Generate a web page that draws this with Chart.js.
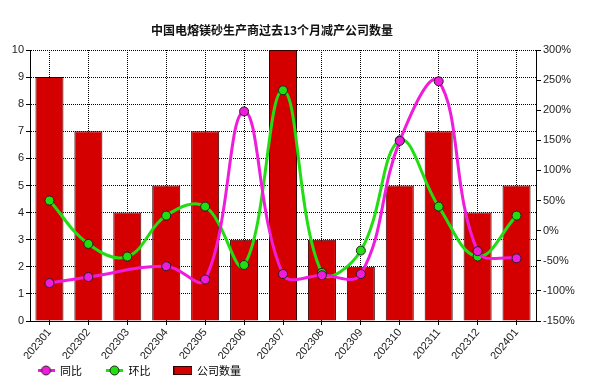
<!DOCTYPE html>
<html>
<head>
<meta charset="utf-8">
<script src="https://cdn.jsdelivr.net/npm/chart.js@4/dist/chart.umd.min.js"></script>
<style>
  html, body { margin: 0; padding: 0; background: #fff; }
  #box { width: 603px; height: 389px; }
</style>
</head>
<body>
<div id="box"><canvas id="grafico"></canvas></div>
<script>
const titulo = '中国电熔镁砂生产商过去13个月减产公司数量'
const meses = ['202301', '202302', '202303', '202304', '202305', '202306', '202307',
  '202308', '202309', '202310', '202311', '202312', '202401']
const empresas = [9, 7, 4, 5, 7, 3, 10, 3, 2, 5, 7, 4, 5]
const tongbi = [-87, -77, null, -59, -81, 198, -72, -74, -72, 149, 248, -34, -46]
const huanbi = [50, -22, -43, 25, 40, -57, 233, -70, -33, 150, 40, -43, 25]
const nombres = ['同比', '环比', '公司数量']

const rojo = '#d40000'
const magenta = '#f01cdc'
const verde = '#22dd11'
const fuente = 'Liberation Sans, Arial, sans-serif'

const iconoLinea = (color) => {
  const c = document.createElement('canvas')
  c.width = 17
  c.height = 11
  const ctx = c.getContext('2d')
  ctx.strokeStyle = color
  ctx.lineWidth = 3
  ctx.beginPath()
  ctx.moveTo(0, 5.5)
  ctx.lineTo(17, 5.5)
  ctx.stroke()
  ctx.beginPath()
  ctx.arc(8.5, 5.5, 4.5, 0, Math.PI * 2)
  ctx.fillStyle = color
  ctx.fill()
  ctx.lineWidth = 1
  ctx.strokeStyle = '#222'
  ctx.stroke()
  return c
}

const iconoBarra = () => {
  const c = document.createElement('canvas')
  c.width = 19
  c.height = 9
  const ctx = c.getContext('2d')
  ctx.fillStyle = rojo
  ctx.fillRect(0.5, 0.5, 18, 8)
  ctx.strokeStyle = '#300'
  ctx.strokeRect(0.5, 0.5, 18, 8)
  return c
}

// titulo a mano, el original no esta centrado en el canvas
const tituloPlugin = {
  id: 'tituloPlugin',
  beforeLayout(chart) {
    const lg = chart.legend
    if (lg && !lg._ajustado) {
      const fit = lg.fit
      lg.fit = function () {
        fit.call(this)
        this.height = 30
      }
      lg._ajustado = true
    }
  },
  afterLayout(chart) {
    const lg = chart.legend
    if (!lg) return
    lg.left += 13.5
    lg.right += 13.5
    lg.top -= 18
  },
  afterDraw(chart) {
    const ctx = chart.ctx
    ctx.save()
    ctx.font = 'bold 12px "Noto Sans CJK SC"'
    ctx.fillStyle = '#111'
    ctx.textAlign = 'center'
    ctx.textBaseline = 'middle'
    ctx.fillText(titulo, 272, 30)
    ctx.restore()
  }
}

const lineaBase = (label, data, color, order) => ({
  type: 'line',
  label,
  data,
  yAxisID: 'y2',
  order,
  borderColor: color,
  backgroundColor: color,
  borderWidth: 3,
  tension: 0.4,
  spanGaps: true,
  pointRadius: 4.5,
  pointBorderWidth: 1,
  pointBorderColor: '#222',
  pointBackgroundColor: color
})

const config = {
  type: 'bar',
  data: {
    labels: meses,
    datasets: [
      lineaBase(nombres[0], tongbi, magenta, 0),
      lineaBase(nombres[1], huanbi, verde, 1),
      {
        type: 'bar',
        label: nombres[2],
        data: empresas,
        yAxisID: 'y',
        order: 2,
        backgroundColor: rojo,
        borderColor: '#300',
        borderWidth: 1,
        categoryPercentage: 0.8,
        barPercentage: 0.9
      }
    ]
  },
  options: {
    responsive: true,
    maintainAspectRatio: false,
    animation: false,
    layout: { padding: { top: 50, left: 0, right: 0, bottom: 0 } },
    plugins: {
      title: { display: false },
      tooltip: { enabled: false },
      legend: {
        position: 'bottom',
        align: 'start',
        labels: {
          usePointStyle: true,
          pointStyleWidth: 17,
          boxWidth: 17,
          padding: 24,
          color: '#222',
          font: { family: '"Noto Sans CJK SC"', size: 11 },
          generateLabels: () => [
            { text: nombres[0], pointStyle: iconoLinea(magenta), datasetIndex: 0, hidden: false },
            { text: nombres[1], pointStyle: iconoLinea(verde), datasetIndex: 1, hidden: false },
            { text: nombres[2], pointStyle: iconoBarra(), datasetIndex: 2, hidden: false }
          ]
        }
      }
    },
    scales: {
      x: {
        afterFit: (s) => { s.height = 38 },
        grid: { offset: false, color: '#000', tickLength: 4, tickBorderDash: [] },
        border: { color: '#000', dash: [1, 1] },
        ticks: {
          color: '#222',
          font: { family: fuente, size: 11 },
          minRotation: 50,
          maxRotation: 50,
          padding: 1
        }
      },
      y: {
        position: 'left',
        min: 0,
        max: 10,
        afterFit: (s) => { s.width = 30 },
        grid: { color: '#000', tickLength: 4, tickBorderDash: [] },
        border: { color: '#000', dash: [1, 1] },
        ticks: {
          stepSize: 1,
          color: '#222',
          font: { family: fuente, size: 11 },
          padding: 2
        }
      },
      y2: {
        position: 'right',
        min: -150,
        max: 300,
        afterFit: (s) => { s.width = 67 },
        grid: { drawOnChartArea: false, color: '#000', tickLength: 5 },
        border: { color: '#000' },
        ticks: {
          stepSize: 50,
          color: '#222',
          font: { family: fuente, size: 11 },
          padding: 2,
          callback: (v) => v + '%'
        }
      }
    }
  },
  plugins: [tituloPlugin]
}

const chart = new Chart(document.querySelector('#grafico'), config)
</script>
</body>
</html>
